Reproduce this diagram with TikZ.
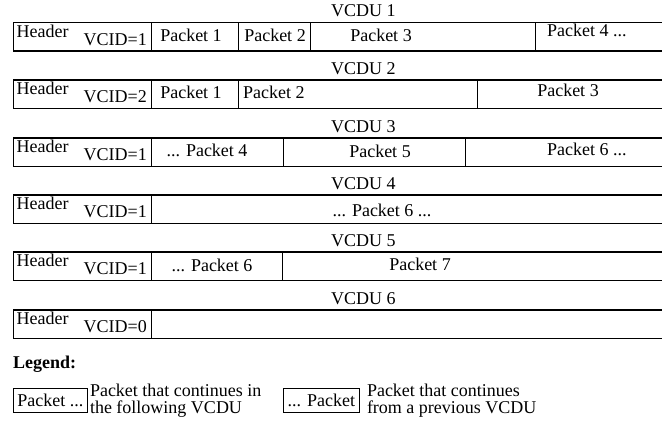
\documentclass[tikz,border=0pt]{standalone}
\usepackage{fontspec}
\setmainfont{Liberation Serif}
\usetikzlibrary{positioning}

\begin{document}
\begin{tikzpicture}[x=1pt,y=-1pt]
	\tikzset{txt/.style={inner sep=1pt,font=\fontsize{18}{17}\selectfont},
		rule/.style={line width=1.4pt},
		sep/.style={line width=0.9pt},
		legbox/.style={txt,draw,line width=0.8pt,minimum height=24pt,anchor=north west}}
	\useasboundingbox (0,0) rectangle (662,421);
	% one frame per VCDU
	\foreach \i/\t/\v in {1/22.5/1,2/80/2,3/138/1,4/195/1,5/252/1,6/310/0}{
		\draw[rule] (13,\t) -- (662,\t);
		\draw[rule] (13,\t+28.5) -- (662,\t+28.5);
		\draw[sep] (13,\t) -- (13,\t+28.5) (151,\t) -- (151,\t+28.5);
		\node[txt,anchor=base west] (vcdu\i) at (330,\t-6) {VCDU \i};
		\node[txt,anchor=base west] (hdr\i) at (15.5,\t+14.5) {Header};
		\node[txt,anchor=base east] (vcid\i) at (148,\t+22.5) {VCID=\v};
	}
	% packet boundaries
	\foreach \t/\x in {22.5/238,22.5/310,22.5/535,80/238,80/477,138/283,138/465,252/282}
		\draw[sep] (\x,\t) -- (\x,\t+28.5);
	% packets
	\node[txt,anchor=base] (r1p1) at (191,41) {Packet 1};
	\node[txt,anchor=base] (r1p2) at (275,41) {Packet 2};
	\node[txt,anchor=base] (r1p3) at (381,41) {Packet 3};
	\node[txt,anchor=base west] (r1p4) at (546,36) {Packet 4 ...};
	\node[txt,anchor=base] (r2p1) at (191,98.3) {Packet 1};
	\node[txt,anchor=base west] (r2p2) at (242,98.3) {Packet 2};
	\node[txt,anchor=base] (r2p3) at (568,96.7) {Packet 3};
	\node[txt,anchor=base] (r3p4) at (207,156.7) {... Packet 4};
	\node[txt,anchor=base] (r3p5) at (380,157.5) {Packet 5};
	\node[txt,anchor=base west] (r3p6) at (546,155) {Packet 6 ...};
	\node[txt,anchor=base] (r4p6) at (382,216) {... Packet 6 ...};
	\node[txt,anchor=base] (r5p6) at (212,271.7) {... Packet 6};
	\node[txt,anchor=base] (r5p7) at (420,270) {Packet 7};
	% legend
	\node[txt,anchor=base west,font=\fontsize{18}{17}\selectfont\bfseries] (leg) at (12,368) {Legend:};
	\node[legbox,minimum width=74pt] (cont) at (13,388) {Packet ...};
	\node[txt,right=1pt of cont,align=left] (conttxt) {Packet that continues in\\the following VCDU};
	\node[legbox,minimum width=76pt] (prev) at (283,388) {... Packet};
	\node[txt,right=6pt of prev,align=left] (prevtxt) {Packet that continues\\from a previous VCDU};
\end{tikzpicture}
\end{document}
